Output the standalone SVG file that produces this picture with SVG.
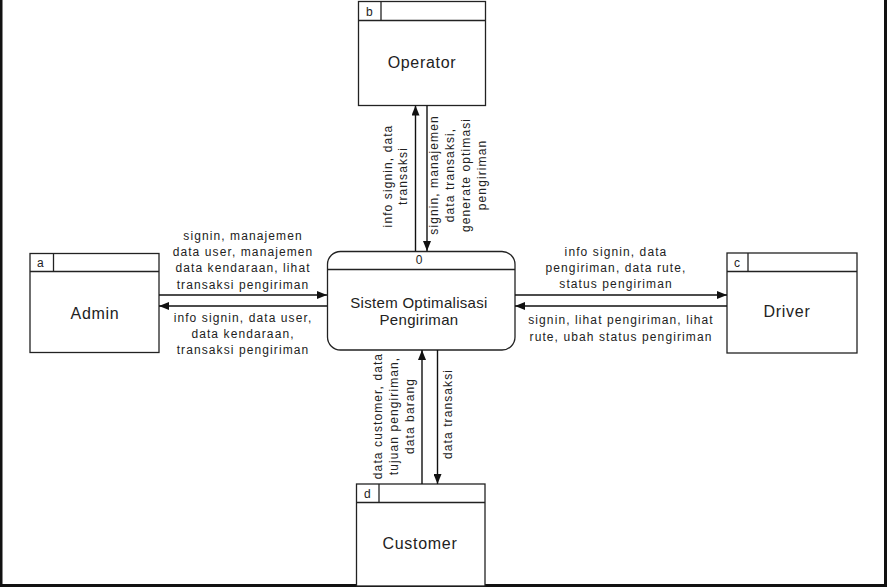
<svg xmlns="http://www.w3.org/2000/svg" width="887" height="587" viewBox="0 0 887 587">
<defs>
<marker id="arr" viewBox="0 0 10 8" refX="10" refY="4" markerWidth="10" markerHeight="8" markerUnits="userSpaceOnUse" orient="auto">
<path d="M0,0 L10,4 L0,8 z" fill="#111"/>
</marker>
<style>
.box{fill:#fff;stroke:#222;stroke-width:1.3}
.ln{stroke:#222;stroke-width:1.3;fill:none}
.con{stroke:#111;stroke-width:1.4;fill:none;marker-end:url(#arr)}
.title{font-family:"Liberation Sans",Arial,sans-serif;font-size:16px;letter-spacing:0.7px;fill:#222;text-anchor:middle}
.ptitle{font-family:"Liberation Sans",Arial,sans-serif;font-size:15px;letter-spacing:0.3px;fill:#222;text-anchor:middle}
.id{font-family:"Liberation Sans",Arial,sans-serif;font-size:12px;fill:#222}
.lbl{font-family:"Liberation Sans",Arial,sans-serif;font-size:12px;letter-spacing:1.1px;fill:#222;text-anchor:middle}
</style>
</defs>
<rect x="0" y="0" width="887" height="587" fill="#fff"/>
<g id="frame">
<rect x="0" y="0" width="2.5" height="587" fill="#111"/>
<rect x="884" y="0" width="3" height="587" fill="#111"/>
<rect x="0" y="584" width="887" height="3" fill="#111"/>
</g>

<g id="operator">
<rect class="box" x="358.5" y="1.5" width="127" height="104"/>
<line class="ln" x1="358.5" y1="20.5" x2="485.5" y2="20.5"/>
<line class="ln" x1="381" y1="1.5" x2="381" y2="20.5"/>
<text class="id" x="366" y="15.5">b</text>
<text class="title" x="422" y="68">Operator</text>
</g>

<g id="admin">
<rect class="box" x="30" y="253.5" width="129" height="99"/>
<line class="ln" x1="30" y1="271.5" x2="159" y2="271.5"/>
<line class="ln" x1="53.5" y1="253.5" x2="53.5" y2="271.5"/>
<text class="id" x="37" y="267">a</text>
<text class="title" x="95" y="319">Admin</text>
</g>

<g id="driver">
<rect class="box" x="727" y="253" width="130" height="100"/>
<line class="ln" x1="727" y1="271.5" x2="857" y2="271.5"/>
<line class="ln" x1="748" y1="253" x2="748" y2="271.5"/>
<text class="id" x="734" y="267">c</text>
<text class="title" x="787" y="317">Driver</text>
</g>

<g id="customer">
<rect class="box" x="356.5" y="484" width="128.5" height="102"/>
<line class="ln" x1="356.5" y1="502.5" x2="485" y2="502.5"/>
<line class="ln" x1="379" y1="484" x2="379" y2="502.5"/>
<text class="id" x="364" y="498">d</text>
<text class="title" x="420" y="549">Customer</text>
</g>

<g id="process">
<rect class="box" x="327.5" y="251.5" width="187.5" height="98.5" rx="13" ry="13"/>
<line class="ln" x1="327.5" y1="269.5" x2="515" y2="269.5"/>
<text class="id" x="419" y="264" text-anchor="middle">0</text>
<text class="ptitle" x="419" y="307.5">Sistem Optimalisasi</text>
<text class="ptitle" x="419" y="325">Pengiriman</text>
</g>

<g id="connectors">
<line class="con" x1="159" y1="295" x2="327" y2="295"/>
<line class="con" x1="327" y1="306" x2="159" y2="306"/>
<line class="con" x1="515" y1="295" x2="727" y2="295"/>
<line class="con" x1="727" y1="306" x2="515" y2="306"/>
<line class="con" x1="415.5" y1="251" x2="415.5" y2="105.5"/>
<line class="con" x1="427" y1="105.5" x2="427" y2="251"/>
<line class="con" x1="422" y1="484" x2="422" y2="350"/>
<line class="con" x1="437.5" y1="350" x2="437.5" y2="484"/>
</g>

<g id="labels">
<text class="lbl"><tspan x="243" y="240">signin, manajemen</tspan><tspan x="243" y="256">data user, manajemen</tspan><tspan x="243" y="272">data kendaraan, lihat</tspan><tspan x="243" y="289">transaksi pengiriman</tspan></text>
<text class="lbl"><tspan x="243" y="322">info signin, data user,</tspan><tspan x="243" y="338">data kendaraan,</tspan><tspan x="243" y="354">transaksi pengiriman</tspan></text>
<text class="lbl"><tspan x="616" y="256">info signin, data</tspan><tspan x="616" y="272">pengiriman, data rute,</tspan><tspan x="616" y="288">status pengiriman</tspan></text>
<text class="lbl"><tspan x="621" y="324">signin, lihat pengiriman, lihat</tspan><tspan x="621" y="341">rute, ubah status pengiriman</tspan></text>
<g transform="translate(0,176) rotate(-90)">
<text class="lbl"><tspan x="0" y="391.5">info signin, data</tspan><tspan x="0" y="406.5">transaksi</tspan></text>
</g>
<g transform="translate(0,175) rotate(-90)">
<text class="lbl"><tspan x="0" y="438">signin, manajemen</tspan><tspan x="0" y="454">data transaksi,</tspan><tspan x="0" y="470">generate optimasi</tspan><tspan x="0" y="486">pengiriman</tspan></text>
</g>
<g transform="translate(0,416) rotate(-90)">
<text class="lbl"><tspan x="0" y="382">data customer, data</tspan><tspan x="0" y="398">tujuan pengiriman,</tspan><tspan x="0" y="414">data barang</tspan></text>
</g>
<g transform="translate(0,414) rotate(-90)">
<text class="lbl"><tspan x="0" y="452">data transaksi</tspan></text>
</g>
</g>
</svg>
